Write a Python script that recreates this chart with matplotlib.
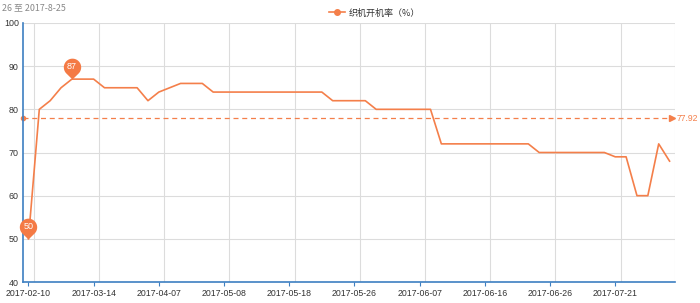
import numpy as np
import matplotlib
matplotlib.use("Agg")
import matplotlib.pyplot as plt
from matplotlib.path import Path
from matplotlib.lines import Line2D

plt.rcParams['font.family'] = ['Liberation Sans', 'Noto Sans CJK SC', 'DejaVu Sans']

# ---- data ----
values = [50, 80, 82, 85, 87, 87, 87, 85, 85, 85, 85, 82, 84, 85, 86, 86, 86,
          84, 84, 84, 84, 84, 84, 84, 84, 84, 84, 84,
          82, 82, 82, 82,
          80, 80, 80, 80, 80, 80,
          72, 72, 72, 72, 72, 72, 72, 72, 72,
          70, 70, 70, 70, 70, 70, 70,
          69, 69, 60, 60, 72, 68]
tick_labels = ["2017-02-10", "2017-03-14", "2017-04-07", "2017-05-08", "2017-05-18",
               "2017-05-26", "2017-06-07", "2017-06-16", "2017-06-26", "2017-07-21"]
tick_every = 6
series_name = "织机开机率（%）"
subtitle = "26 至 2017-8-25"
y_ticks = [40, 50, 60, 70, 80, 90, 100]

color = '#f47f4a'
axis_blue = '#3d7fc1'
grid_c = '#dcdcdc'

n = len(values)
x = np.arange(n)
mean_v = float(np.mean(values))

fig = plt.figure(figsize=(7, 3.03), dpi=100)
ax = fig.add_axes([23/700, 21/303, 652/700, 259/303])
ax.set_xlim(-0.5, n - 0.5)
ax.set_ylim(40, 100)

# grid
for yv in y_ticks:
    ax.axhline(yv, color=grid_c, lw=0.8, zorder=0)
tick_idx = list(range(0, n, tick_every))
for i in tick_idx:
    ax.axvline(i + 0.5, color=grid_c, lw=0.8, zorder=0)
ax.axvline(n - 0.5, color=grid_c, lw=0.8, zorder=0)

for s in ['top', 'right']:
    ax.spines[s].set_visible(False)
for s in ['left', 'bottom']:
    ax.spines[s].set_color(axis_blue)
    ax.spines[s].set_linewidth(1.2)

ax.set_yticks(y_ticks)
ax.set_yticklabels([str(v) for v in y_ticks], fontsize=6.4, color='#333333')
ax.tick_params(axis='y', length=0, pad=3)
ax.set_xticks(tick_idx)
ax.set_xticklabels(tick_labels[:len(tick_idx)], fontsize=6.3, color='#333333')
ax.tick_params(axis='x', length=3, color=axis_blue, pad=2)

# series
ax.plot(x, values, color=color, lw=1.2, zorder=3, clip_on=False)

# mean line
ax.plot([-0.5, n - 0.75], [mean_v, mean_v], color=color, lw=0.9,
        dashes=(4, 3), zorder=2, clip_on=False)
ax.plot([-0.5], [mean_v], marker='o', ms=3, color=color, clip_on=False, zorder=2)
ax.plot([n - 0.75], [mean_v], marker='>', ms=4, color=color, clip_on=False, zorder=2)
ax.annotate(f"{mean_v:.2f}", xy=(n - 0.5, mean_v), xytext=(1.5, 0),
            textcoords='offset points', va='center', ha='left',
            fontsize=6.2, color=color, annotation_clip=False)

# pin marker
c, r = 1.4, 1.0
alpha = np.arccos(r / c)
angs = np.linspace(-np.pi / 2 + alpha, 3 * np.pi / 2 - alpha, 40)
verts = [(0, 0)] + [(r * np.cos(a), c + r * np.sin(a)) for a in angs] + [(0, 0)]
pin = Path(verts, closed=True)
ms = 30

imax = int(np.argmax(values))
imin = int(np.argmin(values))
for i in [imax, imin]:
    ax.plot([i], [values[i]], marker=pin, ms=ms, color='#f47a45', mec='none',
            zorder=5, clip_on=False)
    ax.annotate(str(values[i]), xy=(i, values[i]), xytext=(0, 8.8),
                textcoords='offset points', ha='center', va='center',
                fontsize=6.5, color='white', zorder=6)

# legend
h = Line2D([], [], color=color, lw=1.2, marker='o', ms=4)
fig.legend([h], [series_name], loc='center', bbox_to_anchor=(0.535, 0.957),
           frameon=False, handlelength=1.8, handletextpad=0.4,
           labelcolor='#333333', prop={'family': ['Noto Sans CJK SC', 'DejaVu Sans'], 'size': 6.5})

# subtitle (clipped at left)
fig.text(2/700, 1 - 8/303, subtitle, fontsize=6.4, color='#888888', va='center', ha='left',
         family=['Noto Sans CJK SC', 'DejaVu Sans'])

fig.savefig('out.png', dpi=100)
